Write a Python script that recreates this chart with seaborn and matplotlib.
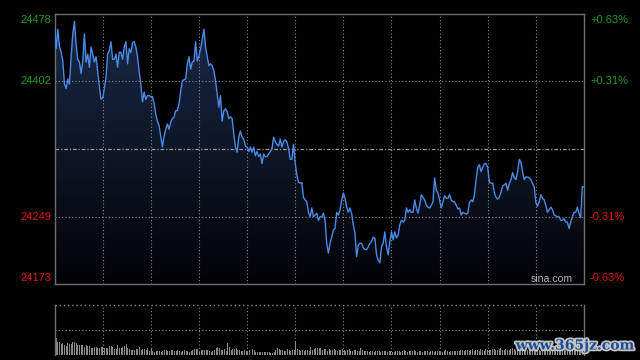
import matplotlib
matplotlib.use("Agg")

import matplotlib.patheffects as pe
import matplotlib.pyplot as plt
import numpy as np
import pandas as pd
import seaborn as sns
from matplotlib.colors import LinearSegmentedColormap

# intraday index, one value per minute
PREV_CLOSE = 24325.5
Y_MIN, Y_MAX = 24173, 24478
LEFT_LABELS = ["24478", "24402", "24249", "24173"]
RIGHT_LABELS = ["+0.63%", "+0.31%", "-0.31%", "-0.63%"]
GRID_LEVELS = [24402, 24249]

prices = [
    24464, 24439, 24461, 24441, 24435, 24425, 24399, 24394, 24405, 24399,
    24430, 24456, 24470, 24444, 24427, 24424, 24411, 24425, 24456, 24424,
    24433, 24418, 24441, 24433, 24424, 24430, 24413, 24397, 24382, 24383,
    24394, 24407, 24433, 24437, 24447, 24427, 24427, 24433, 24418, 24435,
    24435, 24427, 24441, 24447, 24422, 24439, 24435, 24446, 24447, 24441,
    24430, 24413, 24399, 24379, 24390, 24382, 24386, 24386, 24385, 24385,
    24377, 24365, 24357, 24352, 24340, 24328, 24340, 24348, 24354, 24348,
    24356, 24360, 24362, 24369, 24369, 24377, 24391, 24403, 24404, 24405,
    24422, 24430, 24416, 24424, 24425, 24447, 24425, 24431, 24439, 24450,
    24461, 24441, 24430, 24420, 24422, 24420, 24414, 24403, 24388, 24373,
    24386, 24357, 24369, 24371, 24368, 24360, 24362, 24360, 24343, 24328,
    24322, 24339, 24346, 24339, 24337, 24329, 24328, 24323, 24328, 24322,
    24328, 24318, 24323, 24317, 24320, 24309, 24320, 24317, 24317, 24320,
    24323, 24326, 24339, 24334, 24331, 24329, 24337, 24328, 24334, 24336,
    24334, 24326, 24314, 24314, 24331,
    24310, 24296, 24288, 24287, 24288, 24271, 24268, 24266, 24254, 24249,
    24259, 24249, 24251, 24253, 24245, 24249, 24249, 24253, 24245, 24219,
    24208, 24219, 24226, 24234, 24236, 24254, 24251, 24257, 24268, 24276,
    24270, 24260, 24254, 24259, 24253, 24240, 24231, 24204, 24217, 24219,
    24219, 24214, 24212, 24212, 24215, 24219, 24221, 24226, 24225, 24206,
    24200, 24197, 24215, 24219, 24232, 24215, 24206, 24221, 24232, 24223,
    24232, 24225, 24228, 24240, 24245, 24243, 24245, 24259, 24254, 24257,
    24254, 24254, 24268, 24259, 24253, 24262, 24274, 24271, 24268, 24262,
    24260, 24259, 24262, 24266,
    24293, 24279, 24276, 24268, 24259, 24266, 24273, 24270, 24270, 24274,
    24268, 24266, 24266, 24262, 24258, 24259, 24251, 24254, 24253, 24252,
    24253, 24265, 24268, 24266, 24274, 24291, 24305, 24308, 24300, 24305,
    24309, 24309, 24305, 24288, 24287, 24287, 24276, 24271, 24269, 24271,
    24277, 24284, 24285, 24287, 24279, 24287, 24291, 24299, 24293, 24291,
    24300, 24314, 24311, 24300, 24291, 24294, 24294, 24293, 24291, 24287,
    24283, 24265, 24261, 24266, 24274, 24270, 24268, 24262, 24254, 24257,
    24260, 24257, 24251, 24250, 24249, 24249, 24245, 24245, 24247, 24243,
    24243, 24236, 24243, 24249, 24254, 24254, 24260, 24253, 24248, 24283,
    24283,
]

volumes = [
    17, 17, 12.7, 12.7, 11, 11.7, 10, 9, 11.7, 11,
    10.7, 12.7, 12.7, 11.7, 10, 9.7, 9.7, 10, 8.3, 10,
    9, 9, 6.7, 7, 8, 7.7, 6.7, 6.7, 7.7, 7.7, 6.7, 7, 6.7, 9,
    9, 8.3, 5.7, 5.7, 10, 6.7, 6.7, 8.3, 9, 11,
    6.7, 5.7, 5, 5, 5, 5.7, 5.7, 7.7, 5, 5.7,
    6.3, 5, 6.7, 4.3, 6.7, 4, 3.3, 4, 4, 4,
    3.3, 4.3, 5, 5, 4, 4.3, 5, 5, 4.3, 4.3, 5, 4,
    3.3, 3.7, 5, 4, 4, 3.3, 4, 5, 5.7, 5.7,
    5.7, 4.3, 5, 5, 5, 5, 5, 4, 3.3, 4,
    5, 6.7, 7.7, 6.7, 5, 5, 5.7, 4, 12.3, 7.7,
    5, 5.7, 6.3, 6.7, 5, 5, 4, 4, 5, 4,
    4, 5, 4, 5.7, 5, 3.3, 3.3, 3, 3.3, 3.3, 3, 3.3,
    3, 3.3, 2.3, 2.3, 3, 5, 6.7, 5.7, 5, 5,
    4.3, 4.3, 5.7, 5, 4.3, 5, 5, 14.3,
    5.7, 5, 4.3, 5, 4.3, 5, 5, 4.3, 7.7, 5, 5.7, 6.7, 6.7, 6.7,
    6.7, 5, 6, 5.7, 4.3, 6.3, 5, 4.7, 6, 5, 4.3, 5.3, 4.7, 6.3, 5,
    4, 4.7, 5.7, 4.3, 4, 5, 4.7, 3.7, 4.3, 6.7, 4.7,
    4, 3.7, 4.3, 3.3, 4, 3.7, 3.3, 4, 4.3, 3.7, 3.3, 4, 3.7, 4.3, 3.3,
    3.7, 4, 3.3, 3, 3.7, 4.3, 3.7, 3.3, 4, 4.7, 3.7, 3.3, 4, 3.7, 4.3,
    5, 3.7, 3.3, 4, 3.7, 3.3, 4.3, 4, 3.7, 3.3, 3.7, 4, 3.3, 3.7, 4.3,
    3.7, 4, 3.3, 3.7, 4.7, 4, 3.3, 3.7, 4, 4.3, 3.7, 4, 4.3, 4.7,
    5, 4.3, 5.3, 4.7, 4, 5, 5.7, 4.3, 4.7, 5, 4.3, 5.7, 5, 4.3, 6,
    5.3, 4.7, 5, 5.7, 6.3, 5, 4.7, 5.7, 6.7, 5.3, 5, 6, 5.3, 4.7, 6.3,
    7, 5.7, 5, 6, 5.3,
    4.7, 5.3, 5, 4.3, 5, 5.7, 4.7, 5, 4.3, 4.7, 5.3, 5, 4.3, 4.7, 5,
    5.7, 5, 4.7, 4.3, 5, 5.3, 4.7, 5, 4.3, 4.7, 5, 5.7, 5.3, 4.7, 5,
    4.3, 5, 5.7, 5.3, 6, 5, 5.7, 6.3, 7,
]

GREEN = "#1c9c1c"
RED = "#e0160c"
GRID = "#8c8c8c"
FRAME = "#6e6e6e"

sns.set_theme(style="dark")
plt.rcParams["font.family"] = ["Liberation Sans", "DejaVu Sans"]

n = len(prices)
df = pd.DataFrame({"t": np.arange(n), "price": prices})

fig = plt.figure(figsize=(6.4, 3.6), dpi=100, facecolor="black")
ax = fig.add_axes([0.0852, 0.2111, 0.8273, 0.7492])
axv = fig.add_axes([0.0852, 0.0139, 0.8273, 0.1397])

for a in (ax, axv):
    a.set_facecolor("black")
    a.set_xticks([])
    a.set_yticks([])
    a.set_xlabel("")
    a.set_ylabel("")
    a.grid(False)
    for s in a.spines.values():
        s.set_color(FRAME)
        s.set_linewidth(1.0)

# gradient fill under the price line
poly = ax.fill_between(df["t"], df["price"], Y_MIN, color="none", lw=0)
cmap = LinearSegmentedColormap.from_list("fade", ["#020306", "#1a2a48"])
grad = np.linspace(0, 1, 256).reshape(-1, 1)
img = ax.imshow(grad, extent=[0, n - 1, Y_MIN, Y_MAX], origin="lower",
                aspect="auto", cmap=cmap, zorder=1)
img.set_clip_path(poly.get_paths()[0], transform=ax.transData)

sns.lineplot(data=df, x="t", y="price", ax=ax, color="#4a8ae8",
             linewidth=1.0, zorder=4)

ax.set_xlim(0, n - 1)
ax.set_ylim(Y_MIN, Y_MAX)
ax.set_xlabel("")
ax.set_ylabel("")

for k in range(1, 11):
    xv = (n - 1) * k / 11
    ax.axvline(xv, color=GRID, lw=0.8, ls=(0, (1, 2)), zorder=2)
    axv.axvline(xv, color=GRID, lw=0.8, ls=(0, (1, 2)), zorder=0)
for lv in GRID_LEVELS:
    ax.axhline(lv, color=GRID, lw=0.8, ls=(0, (1, 2)), zorder=2)
ax.axhline(PREV_CLOSE, color="#9a9a9a", lw=0.9, ls=(0, (3, 1.5, 1, 1.5)), zorder=2)

# volume panel
vx = np.linspace(0, n - 1, len(volumes))
axv.bar(vx, volumes, width=0.6, color="#8a8a8a", lw=0, zorder=2)
axv.set_xlim(0, n - 1)
axv.set_ylim(0, 50.3)
axv.axhline(25.3, color=GRID, lw=0.8, ls=(0, (1, 2)), zorder=1)
axv.spines["top"].set_visible(False)
axv.axhline(50.3, color=GRID, lw=1.0, ls=(0, (1, 2)), clip_on=False)
axv.spines["bottom"].set_visible(False)

# axis labels drawn in pixel positions
W, H = 640, 360
ys = [20.3, 81.5, 217.2, 277.8]
colors = [GREEN, GREEN, RED, RED]
for lab, pct, yy, c in zip(LEFT_LABELS, RIGHT_LABELS, ys, colors):
    fig.text(51 / W, 1 - yy / H, lab, color=c, fontsize=8, ha="right", va="center")
    fig.text(590 / W, 1 - yy / H, pct, color=c, fontsize=8, ha="left", va="center")

fig.text(573 / W, 1 - 279 / H, "sina.com", color="#b4b4b4", fontsize=7.6,
         ha="right", va="center")

wm = fig.text(575 / W, 1 - 345.5 / H, "www.365jz.com", color="#1f4c9a",
              fontsize=10, fontweight="bold", family="DejaVu Serif",
              ha="center", va="center")
wm.set_path_effects([pe.Stroke(linewidth=2.5, foreground="#c4c4c4"), pe.Normal()])

fig.savefig("out.png", dpi=100, facecolor="black")
